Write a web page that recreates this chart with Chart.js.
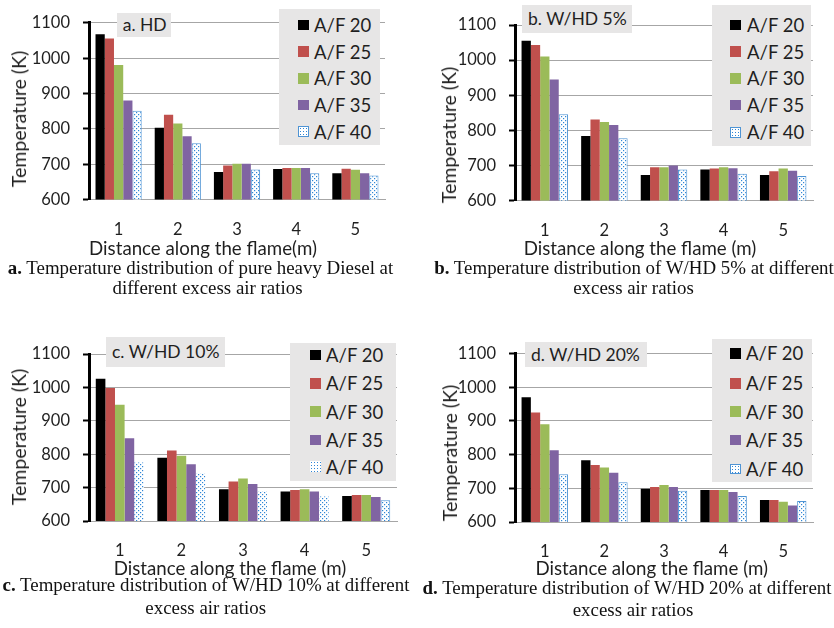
<!DOCTYPE html>
<html><head><meta charset="utf-8">
<script src="https://cdn.jsdelivr.net/npm/chart.js@4"></script>
<style>
html,body{margin:0;padding:0;background:#fff;}
body{width:834px;height:628px;position:relative;overflow:hidden;font-family:Lato,sans-serif;color:#1f1f1f}
canvas{position:absolute}
.t{position:absolute;white-space:nowrap;line-height:20px;height:20px}
.box{position:absolute;background:#e7e6e6}
.sw{position:absolute;width:10.7px;height:10.7px;box-sizing:border-box}
.cap{position:absolute;font-family:"Liberation Serif","Times New Roman",serif;font-size:18.9px;line-height:20px;height:20px;color:#111;white-space:nowrap;transform:translateX(-50%)}
.yt{position:absolute;white-space:nowrap;font-size:19.5px;line-height:20px;transform:translate(-50%,-50%) rotate(-90deg)}
.xt{position:absolute;white-space:nowrap;font-size:18.7px;line-height:20px;transform:translate(-50%,-50%)}
</style></head><body>
<script>
// ---------- data ----------
const categories = ['1', '2', '3', '4', '5'];
const seriesNames = ['A/F 20', 'A/F 25', 'A/F 30', 'A/F 35', 'A/F 40'];
const yTicks = [600, 700, 800, 900, 1000, 1100];

// a. HD
const hdAF20 = [1068, 803, 678, 686, 674];
const hdAF25 = [1056, 840, 696, 689, 687];
const hdAF30 = [981, 815, 701, 689, 684];
const hdAF35 = [880, 779, 701, 689, 674];
const hdAF40 = [851, 759, 685, 674, 668];
// b. W/HD 5%
const w5AF20 = [1055, 784, 673, 688, 673];
const w5AF25 = [1043, 831, 695, 691, 683];
const w5AF30 = [1010, 824, 695, 695, 691];
const w5AF35 = [945, 815, 700, 692, 685];
const w5AF40 = [846, 777, 688, 676, 670];
// c. W/HD 10%
const w10AF20 = [1026, 789, 695, 688, 675];
const w10AF25 = [998, 811, 718, 693, 678];
const w10AF30 = [948, 795, 727, 695, 678];
const w10AF35 = [848, 770, 711, 688, 672];
const w10AF40 = [775, 743, 690, 673, 662];
// d. W/HD 20%
const w20AF20 = [970, 783, 699, 695, 665];
const w20AF25 = [925, 769, 704, 695, 665];
const w20AF30 = [890, 762, 710, 695, 660];
const w20AF35 = [813, 746, 704, 689, 649];
const w20AF40 = [742, 718, 693, 677, 662];

const panelLabels = ['a. HD', 'b. W/HD 5%', 'c. W/HD 10%', 'd. W/HD 20%'];
const yTitle = 'Temperature (K)';
const xTitles = ['Distance along the flame(m)', 'Distance along the flame (m)', 'Distance along the flame (m)', 'Distance along the flame (m)'];
const captions = [
  ['<b>a.</b> Temperature distribution of pure heavy Diesel at', 'different excess air ratios'],
  ['<b>b.</b> Temperature distribution of W/HD 5% at different', 'excess air ratios'],
  ['<b>c.</b> Temperature distribution of W/HD 10% at different', 'excess air ratios'],
  ['<b>d.</b> Temperature distribution of W/HD 20% at different', 'excess air ratios']
];

// ---------- layout ----------
const layouts = [
  {cv:{x:0,y:0,w:400,h:240}, area:{l:89,r:385,t:22,b:199.5},
   yt:[18.5,118.5], xt:[203,248], lab:{x:117,y:13,w:54,h:24,tx:122.7},
   leg:{x:279,y:9,w:101,h:136,sx:298,tx:314,cy:[25,51.7,78.3,105,131.7]},
   cap:[[200.5,268],[207.5,288]], af40Border:[1,1,1,1,1]},
  {cv:{x:417,y:0,w:417,h:240}, area:{l:515,r:813,t:25,b:200.5},
   yt:[449,135], xt:[640,248.3], lab:{x:522,y:5,w:110,h:28,tx:528},
   leg:{x:712,y:5,w:99,h:141,sx:730,tx:747,cy:[25,51.7,78.3,105,132.3]},
   cap:[[634,268],[633.5,288]], af40Border:[1,1,1,1,1]},
  {cv:{x:0,y:320,w:417,h:240}, area:{l:89,r:397,t:354,b:521},
   yt:[19,437], xt:[230,568], lab:{x:106,y:337,w:119,h:30,tx:112},
   leg:{x:290,y:343,w:106,h:138,sx:310,tx:326,cy:[355,383.3,411.7,440,466.7]},
   cap:[[206,585],[205.7,608]], af40Border:[0,0,0,0,1]},
  {cv:{x:417,y:320,w:417,h:240}, area:{l:515,r:813,t:353.5,b:522},
   yt:[450,453], xt:[651.7,568], lab:{x:525,y:342,w:122,h:25,tx:531},
   leg:{x:712,y:339,w:100,h:143,sx:730,tx:746,cy:[353.3,383.3,411.7,440,469]},
   cap:[[627,587.7],[633,610]], af40Border:[1,1,1,1,1]}
];
const panelSeries = [
  [hdAF20, hdAF25, hdAF30, hdAF35, hdAF40],
  [w5AF20, w5AF25, w5AF30, w5AF35, w5AF40],
  [w10AF20, w10AF25, w10AF30, w10AF35, w10AF40],
  [w20AF20, w20AF25, w20AF30, w20AF35, w20AF40]
];

const solidColors = ['#000000', '#c0504d', '#9bbb59', '#8064a2'];
const af40Border = '#4f94d4';

function dotPattern(ctx) {
  const c = document.createElement('canvas');
  c.width = 4; c.height = 4;
  const g = c.getContext('2d');
  g.fillStyle = '#ffffff'; g.fillRect(0, 0, 4, 4);
  g.fillStyle = '#2f86d6';
  g.fillRect(0, 0, 1.2, 1.2);
  g.fillRect(2, 2, 1.2, 1.2);
  return ctx.createPattern(c, 'repeat');
}

Chart.defaults.font.family = 'Lato, sans-serif';
Chart.defaults.animation = false;

function el(cls, style, html) {
  const d = document.createElement('div');
  d.className = cls;
  Object.assign(d.style, style);
  d.innerHTML = html;
  document.body.appendChild(d);
  return d;
}

layouts.forEach((L, i) => {
  const cv = document.createElement('canvas');
  cv.width = L.cv.w; cv.height = L.cv.h;
  cv.style.left = L.cv.x + 'px'; cv.style.top = L.cv.y + 'px';
  cv.style.width = L.cv.w + 'px'; cv.style.height = L.cv.h + 'px';
  document.body.appendChild(cv);
  const ctx = cv.getContext('2d');
  const pat = dotPattern(ctx);
  const datasets = panelSeries[i].map((vals, k) => ({
    label: seriesNames[k],
    data: vals,
    backgroundColor: k < 4 ? solidColors[k] : pat,
    borderColor: k < 4 ? solidColors[k] : af40Border,
    borderWidth: k < 4 ? 0 : L.af40Border,
    borderSkipped: false,
    categoryPercentage: 0.78,
    barPercentage: 1.0
  }));
  new Chart(ctx, {
    type: 'bar',
    data: {labels: categories, datasets},
    options: {
      responsive: false,
      animation: false,
      devicePixelRatio: 1,
      layout: {padding: {top: L.area.t - L.cv.y, right: L.cv.x + L.cv.w - L.area.r, left: 0, bottom: 0}},
      plugins: {legend: {display: false}, tooltip: {enabled: false}, title: {display: false}},
      scales: {
        x: {
          grid: {display: false, drawTicks: false},
          border: {display: true, color: '#a6a6a6', width: 1},
          ticks: {color: '#1f1f1f', font: {size: 16.5}, padding: 20},
          afterFit: s => { s.height = L.cv.y + L.cv.h - L.area.b; }
        },
        y: {
          min: yTicks[0], max: yTicks[yTicks.length - 1],
          ticks: {stepSize: yTicks[1] - yTicks[0], color: '#1f1f1f', font: {size: 16.5}, padding: 13,
                  callback: v => String(v)},
          grid: {color: '#a6a6a6', lineWidth: 1, tickColor: '#000', tickWidth: 2, tickLength: 6},
          border: {display: true, color: '#000', width: 3},
          afterFit: s => { s.width = L.area.l - L.cv.x; }
        }
      }
    }
  });

  // axis titles
  el('yt', {left: L.yt[0] + 'px', top: L.yt[1] + 'px'}, yTitle);
  el('xt', {left: L.xt[0] + 'px', top: L.xt[1] + 'px'}, xTitles[i]);
  // panel label
  const lb = L.lab;
  el('box', {left: lb.x + 'px', top: lb.y + 'px', width: lb.w + 'px', height: lb.h + 'px'}, '');
  el('t', {left: lb.tx + 'px', top: (lb.y + lb.h / 2 - 10) + 'px', fontSize: '17.5px'}, panelLabels[i]);
  // legend
  const lg = L.leg;
  el('box', {left: lg.x + 'px', top: lg.y + 'px', width: lg.w + 'px', height: lg.h + 'px'}, '');
  seriesNames.forEach((name, k) => {
    const st = {left: lg.sx + 'px', top: (lg.cy[k] - 5.35) + 'px'};
    if (k < 4) st.background = solidColors[k];
    else {
      st.backgroundColor = '#fff';
      st.backgroundImage = 'radial-gradient(circle, #2f86d6 0.7px, transparent 0.9px)';
      st.backgroundSize = '3px 3px';
      if (i !== 2) st.border = '1px solid ' + af40Border;
    }
    el('sw', st, '');
    el('t', {left: lg.tx + 'px', top: (lg.cy[k] - 10) + 'px', fontSize: '18.5px'}, name);
  });
  // captions
  captions[i].forEach((line, j) => {
    el('cap', {left: L.cap[j][0] + 'px', top: (L.cap[j][1] - 10) + 'px'}, line);
  });
});
</script>
</body></html>
